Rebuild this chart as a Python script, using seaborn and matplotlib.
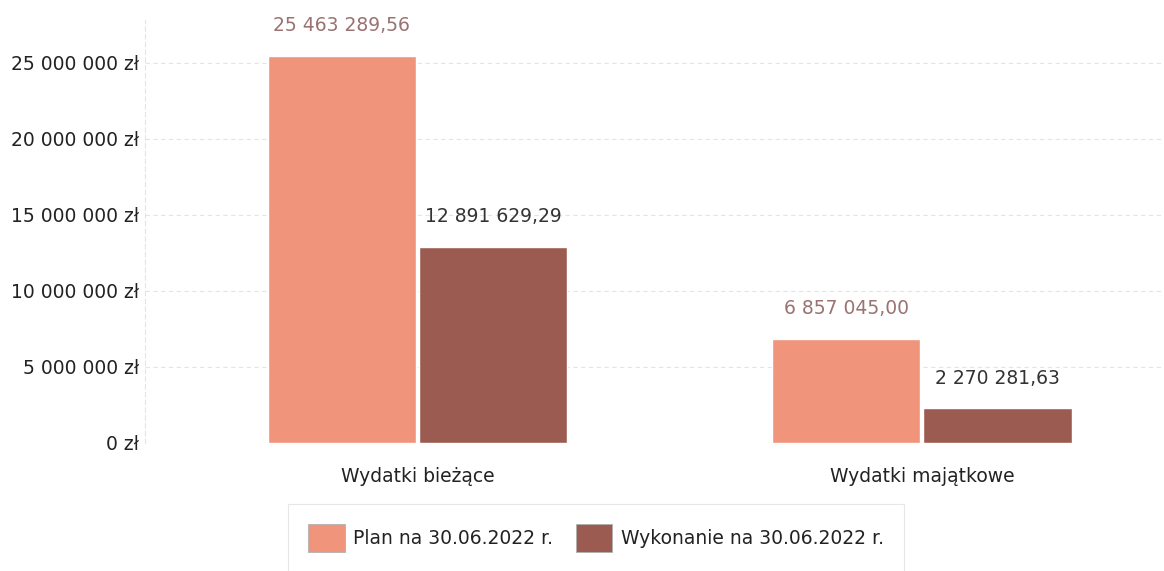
import matplotlib
matplotlib.use('Agg')
import matplotlib.pyplot as plt
import matplotlib.ticker as mticker
import seaborn as sns
import pandas as pd

kategorie = ['Wydatki bieżące', 'Wydatki majątkowe']
serie = ['Plan na 30.06.2022 r.', 'Wykonanie na 30.06.2022 r.']
plan = [25463289.56, 6857045.00]
wykonanie = [12891629.29, 2270281.63]
kolory = ['#F0947C', '#9C5B51']
kolory_etykiet = ['#9A7272', '#333333']

df = pd.DataFrame({
    'Kategoria': kategorie * 2,
    'Seria': [serie[0]] * 2 + [serie[1]] * 2,
    'Kwota': plan + wykonanie,
})

def pln(v, pos=None):
    return f'{v:,.0f}'.replace(',', ' ') + ' zł'

def kwota(v):
    return f'{v:,.2f}'.replace(',', ' ').replace('.', ',')

sns.set_style('white')
plt.rcParams['font.family'] = ['DejaVu Sans']
fs = 13.5

fig = plt.figure(figsize=(11.64, 5.71), dpi=100)
ax = fig.add_axes([145 / 1164, 1 - 443 / 571, (1164 - 145) / 1164, (443 - 20) / 571])

sns.barplot(data=df, x='Kategoria', y='Kwota', hue='Seria', palette=kolory,
            width=0.6, gap=0.02, saturation=1, ax=ax, legend=False)

for kontener, kol in zip(ax.containers, kolory_etykiet):
    ax.bar_label(kontener, labels=[kwota(v) for v in kontener.datavalues],
                 padding=15, color=kol, fontsize=fs)

ax.set_ylim(0, 27.8e6)
ax.set_xlim(-0.54, 1.48)
ax.yaxis.set_major_locator(mticker.MultipleLocator(5e6))
ax.yaxis.set_major_formatter(mticker.FuncFormatter(pln))
ax.grid(axis='y', color='#e4e4e4', linestyle=(0, (4, 3)), linewidth=0.8)
ax.set_axisbelow(True)
for s in ['top', 'right', 'bottom']:
    ax.spines[s].set_visible(False)
ax.spines['left'].set_color('#e4e4e4')
ax.spines['left'].set_linestyle((0, (4, 3)))
ax.set_xlabel('')
ax.set_ylabel('')
ax.tick_params(axis='y', labelsize=fs, colors='#222222', length=0, pad=4)
ax.tick_params(axis='x', labelsize=fs, colors='#222222', length=0, pad=17)

uchwyty = [plt.Rectangle((0, 0), 1, 1, facecolor=k, edgecolor='#b0b0b0', linewidth=0.6) for k in kolory]
leg = fig.legend(uchwyty, serie, loc='center', bbox_to_anchor=(596 / 1164, 1 - 538 / 571),
                 ncol=2, fontsize=fs, frameon=True, fancybox=False, borderpad=1.1,
                 handlelength=1.95, handleheight=1.9, columnspacing=1.2, handletextpad=0.45,
                 borderaxespad=0)
leg.get_frame().set_edgecolor('#e2e2e2')
leg.get_frame().set_linewidth(0.8)
for t in leg.get_texts():
    t.set_color('#222222')

fig.savefig('out.png', dpi=100)
